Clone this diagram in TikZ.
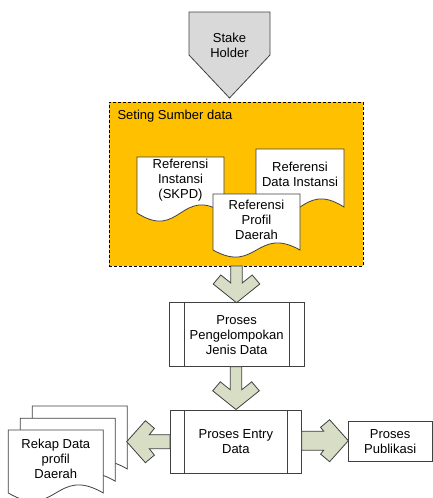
\documentclass[tikz,border=0pt]{standalone}
\usepackage{fontspec}
\setmainfont{Liberation Sans}
\usetikzlibrary{calc}
\definecolor{gold}{HTML}{FFC000}
\definecolor{arrowfill}{HTML}{D8DDC6}
\definecolor{stakefill}{HTML}{D9D9D9}
\definecolor{edge}{HTML}{404040}
\newcommand{\docpath}[2]{%
  \path[docshape] (#1.north west) -- (#1.north east) -- (#1.south east)
    .. controls ($(#1.south)+(0,-3.5*#2)$) and ($(#1.south)+(0,3.5*#2)$) .. (#1.south west) -- cycle;}
\newcommand{\fatarr}[5]{% #1 tip, #2 rotation, #3 length, #4 shaft half width, #5 head half width
  \path[fatarrow, shift={(#1)}, rotate=#2] (0,0) -- (-#5,-18.7) -- (-#5+7.6,-27.7) -- (-#4,{-27.7+(#5-7.6-#4)*0.8}) -- (-#4,-#3) -- (#4,-#3) -- (#4,{-27.7+(#5-7.6-#4)*0.8}) -- (#5-7.6,-27.7) -- (#5,-18.7) -- cycle;}
\begin{document}
\begin{tikzpicture}[x=1pt,y=-1pt, line join=miter,
  lbl/.style={align=center, font=\fontsize{13}{15}\selectfont, inner sep=0pt, text=black},
  geom/.style={inner sep=0pt, outer sep=0pt},
  docshape/.style={draw=edge, fill=white, line width=0.8pt},
  procbox/.style={draw=edge, fill=white, line width=0.8pt, inner sep=0pt, outer sep=0pt, align=center, font=\fontsize{13}{15}\selectfont},
  fatarrow/.style={draw=edge, fill=arrowfill, line width=0.8pt}]
\useasboundingbox (0,0) rectangle (433,498);

% Stake holder
\path[draw=edge, fill=stakefill, line width=0.8pt] (189,12) -- (270,12) -- (270,55) -- (229.5,98) -- (189,55) -- cycle;
\node[lbl] (stake) at (229.5,45.5) {Stake\\Holder};

% Orange group
\node[geom, draw=black, fill=gold, dashed, dash pattern=on 3pt off 2pt, line width=1pt, minimum width=254pt, minimum height=164pt] (grp) at (236,184) {};
\node[lbl, anchor=west] (grptitle) at (117.3,116) {Seting Sumber data};

% documents
\node[geom, minimum width=87pt, minimum height=56pt] (d1) at (180.5,185) {};
\docpath{d1}{8}
\node[lbl] (d1t) at (180.5,180.5) {Referensi\\Instansi\\(SKPD)};
\node[geom, minimum width=88pt, minimum height=58pt] (d2) at (300,178) {};
\docpath{d2}{8}
\node[lbl] (d2t) at (300,174) {Referensi\\Data Instansi};
\node[geom, minimum width=87pt, minimum height=56pt] (d3) at (256.5,222) {};
\docpath{d3}{7}
\node[lbl] (d3t) at (256.5,220) {Referensi\\Profil\\Daerah};

% process boxes
\node[procbox, minimum width=134.7pt, minimum height=64pt] (pp) at (236.65,334.7) {Proses\\Pengelompokan\\Jenis Data};
\draw[draw=edge, line width=0.8pt] ($(pp.north west)+(15,0)$) -- ($(pp.south west)+(15,0)$);
\draw[draw=edge, line width=0.8pt] ($(pp.north east)+(-15,0)$) -- ($(pp.south east)+(-15,0)$);

\node[procbox, minimum width=131.7pt, minimum height=63.3pt] (pe) at (235.85,441.65) {Proses Entry\\Data};
\draw[draw=edge, line width=0.8pt] ($(pe.north west)+(14.3,0)$) -- ($(pe.south west)+(14.3,0)$);
\draw[draw=edge, line width=0.8pt] ($(pe.north east)+(-14.4,0)$) -- ($(pe.south east)+(-14.4,0)$);

\node[procbox, minimum width=83.7pt, minimum height=40.7pt] (pub) at (390.15,441.35) {Proses\\Publikasi};

% Rekap stacked documents
\node[geom, minimum width=95pt, minimum height=63pt] (r3) at (79.8,437.5) {};
\docpath{r3}{8}
\node[geom, minimum width=95pt, minimum height=63pt] (r2) at (67.8,449.7) {};
\docpath{r2}{8}
\node[geom, minimum width=95pt, minimum height=63pt] (r1) at (55.8,461.5) {};
\docpath{r1}{8}
\node[lbl] (r1t) at (55.8,458.5) {Rekap Data\\profil\\Daerah};

% fat arrows
\fatarr{236.5,302.7}{0}{36.7}{5.7}{23.3}
\fatarr{236,409.5}{0}{42.8}{5.7}{23.3}
\fatarr{348.3,440.7}{90}{46.6}{9.5}{21}
\fatarr{126.7,441.7}{-90}{43.3}{7}{21}
\end{tikzpicture}
\end{document}
